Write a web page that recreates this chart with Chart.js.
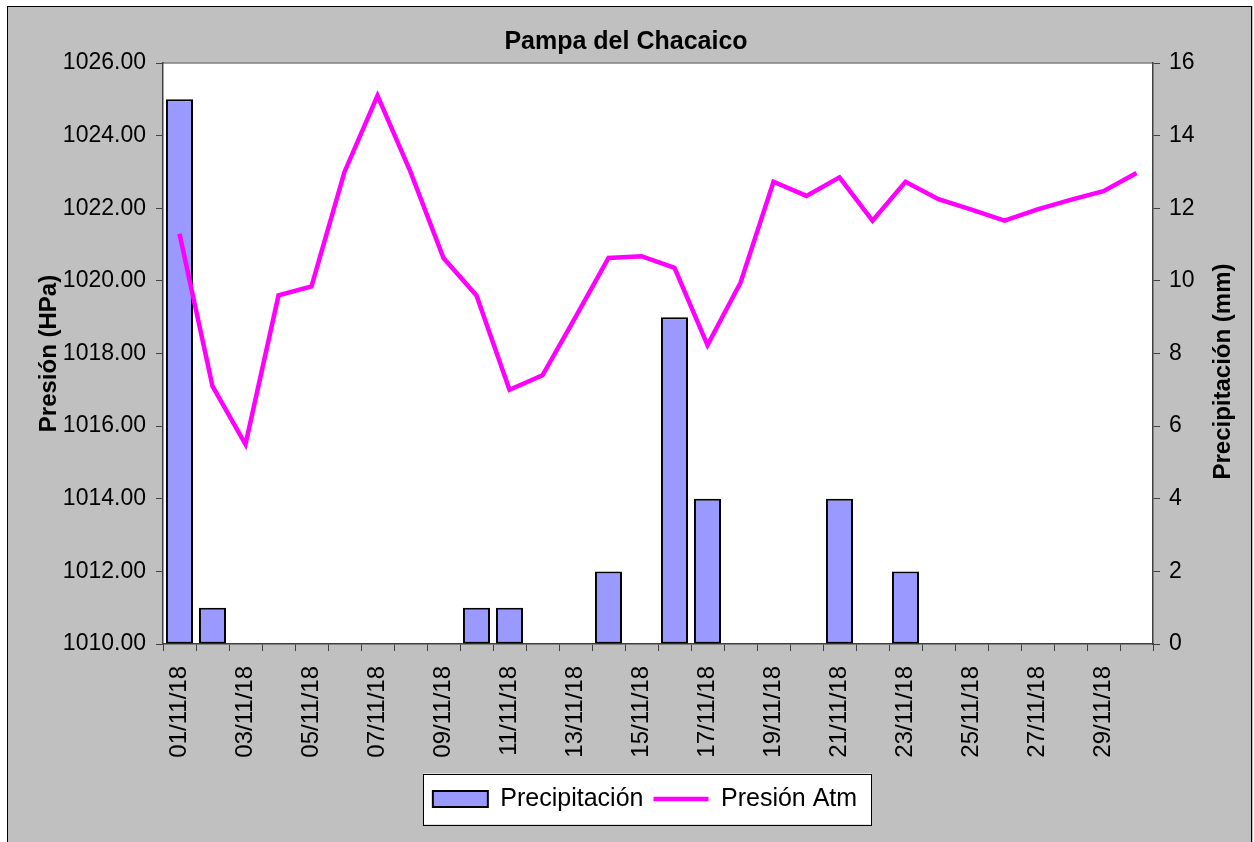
<!DOCTYPE html>
<html>
<head>
<meta charset="utf-8">
<script src="https://cdn.jsdelivr.net/npm/chart.js@4.4.0/dist/chart.umd.min.js"></script>
<style>
  html, body { margin: 0; padding: 0; background: #ffffff; }
  #wrap { width: 1254px; height: 842px; }
</style>
</head>
<body>
<div id="wrap"><canvas id="chart"></canvas></div>
<script>
// Datos del grafico
const fechas = ['01/11/18', '02/11/18', '03/11/18', '04/11/18', '05/11/18', '06/11/18',
  '07/11/18', '08/11/18', '09/11/18', '10/11/18', '11/11/18', '12/11/18', '13/11/18',
  '14/11/18', '15/11/18', '16/11/18', '17/11/18', '18/11/18', '19/11/18', '20/11/18',
  '21/11/18', '22/11/18', '23/11/18', '24/11/18', '25/11/18', '26/11/18', '27/11/18',
  '28/11/18', '29/11/18', '30/11/18'];
const precipitacion = [15, 1, 0, 0, 0, 0, 0, 0, 0, 1, 1, 0, 0, 2, 0, 9, 4, 0, 0, 0,
  4, 0, 2, 0, 0, 0, 0, 0, 0, 0];
const presion = [1021.3, 1017.1, 1015.5, 1019.6, 1019.85, 1023.0, 1025.1, 1023.0, 1020.63, 1019.6,
  1017.0, 1017.4, 1019.0, 1020.63, 1020.68, 1020.36, 1018.23, 1019.95, 1022.73, 1022.34,
  1022.85, 1021.66, 1022.73, 1022.25, 1021.96, 1021.66, 1021.97, 1022.23, 1022.47, 1022.97];
const presionMin = 1010, presionMax = 1026, presionPaso = 2;
const precipMin = 0, precipMax = 16, precipPaso = 2;

const colores = {
  fondo: '#c0c0c0',
  barra: '#9999ff',
  linea: '#ff00ff',
  eje: '#404040',
  texto: '#000000'
};

const fuente = "'Liberation Sans', Arial, sans-serif";
Chart.defaults.font.family = fuente;
Chart.defaults.color = colores.texto;

// Fondo gris, area blanca, recuadro de leyenda y titulo del eje derecho
const fondoPlugin = {
  id: 'fondo',
  afterLayout(chart) {
    const lg = chart.legend;
    lg.left += 19;
    lg.right += 19;
  },
  beforeDraw(chart) {
    const ctx = chart.ctx;
    const a = chart.chartArea;
    ctx.save();
    ctx.fillStyle = colores.fondo;
    ctx.fillRect(7, 6, 1246, 850);
    ctx.strokeStyle = '#000';
    ctx.lineWidth = 1;
    ctx.strokeRect(7.5, 6.5, 1244, 850);

    ctx.fillStyle = '#ffffff';
    ctx.fillRect(a.left, a.top, a.right - a.left, a.bottom - a.top);
    ctx.strokeStyle = '#808080';
    ctx.lineWidth = 1.5;
    ctx.beginPath();
    ctx.moveTo(a.left, a.top);
    ctx.lineTo(a.right, a.top);
    ctx.stroke();

    const lg = chart.legend;
    const pad = lg.options.labels.padding;
    const rowW = lg.lineWidths[0];
    const startX = (lg.left + pad + lg.right - rowW) / 2;
    const cy = lg.top + pad + 12.5;
    const x0 = Math.round(startX - 10) + 0.5;
    const x1 = Math.round(startX + rowW - pad + 14) + 0.5;
    ctx.fillStyle = '#ffffff';
    ctx.fillRect(x0, cy - 25.5, x1 - x0, 51);
    ctx.strokeStyle = '#000';
    ctx.lineWidth = 1;
    ctx.strokeRect(x0, Math.round(cy - 25.5) + 0.5, x1 - x0, 51);
    ctx.restore();
  },
  afterDraw(chart) {
    // el titulo derecho se lee de abajo hacia arriba, como el izquierdo
    const ctx = chart.ctx;
    const a = chart.chartArea;
    ctx.save();
    ctx.translate(1223, (a.top + a.bottom) / 2 + 18);
    ctx.rotate(-Math.PI / 2);
    ctx.font = 'bold 24px ' + fuente;
    ctx.fillStyle = colores.texto;
    ctx.textAlign = 'center';
    ctx.textBaseline = 'middle';
    ctx.fillText('Precipitación (mm)', 0, 0);
    ctx.restore();
  }
};

const ctx = document.getElementById('chart').getContext('2d');

new Chart(ctx, {
  type: 'bar',
  data: {
    labels: fechas,
    datasets: [
      {
        type: 'bar',
        label: 'Precipitación',
        data: precipitacion,
        yAxisID: 'y1',
        backgroundColor: colores.barra,
        borderColor: '#000000',
        borderWidth: c => (c.raw > 0 ? 2 : 0),
        borderSkipped: false,
        categoryPercentage: 1,
        barPercentage: 0.82,
        order: 2
      },
      {
        type: 'line',
        label: 'Presión Atm',
        data: presion,
        yAxisID: 'y',
        borderColor: colores.linea,
        backgroundColor: colores.linea,
        borderWidth: 4.5,
        pointRadius: 0,
        tension: 0,
        fill: false,
        order: 1
      }
    ]
  },
  options: {
    responsive: true,
    maintainAspectRatio: false,
    animation: false,
    layout: { padding: { left: 10, right: 12, top: 0, bottom: 20.5 } },
    plugins: {
      title: {
        display: true,
        text: 'Pampa del Chacaico',
        color: colores.texto,
        font: { size: 25, weight: 'bold' },
        padding: { top: 27, bottom: 6 }
      },
      legend: {
        display: true,
        position: 'bottom',
        labels: {
          color: colores.texto,
          font: { size: 25 },
          usePointStyle: true,
          pointStyleWidth: 55,
          boxHeight: 16,
          padding: 10,
          generateLabels: function(chart) {
            return chart.data.datasets.map((ds, i) => ({
              text: ds.label,
              datasetIndex: i,
              fillStyle: ds.type === 'bar' ? colores.barra : colores.linea,
              strokeStyle: ds.type === 'bar' ? '#000000' : colores.linea,
              lineWidth: ds.type === 'bar' ? 2 : 4.5,
              pointStyle: ds.type === 'bar' ? 'rect' : 'line',
              fontColor: colores.texto,
              hidden: false
            }));
          }
        }
      },
      tooltip: { enabled: false }
    },
    scales: {
      x: {
        offset: true,
        grid: {
          display: true,
          drawOnChartArea: false,
          drawTicks: true,
          tickLength: 7,
          offset: true,
          color: colores.eje
        },
        border: { display: true, color: colores.eje, width: 1.5 },
        ticks: {
          autoSkip: false,
          maxRotation: 90,
          minRotation: 90,
          padding: 15,
          color: colores.texto,
          font: { size: 24 },
          callback: function(value, index) {
            return index % 2 === 0 ? this.getLabelForValue(value) : '';
          }
        },
        afterFit: function(scale) { scale.height = 132.5; }
      },
      y: {
        position: 'left',
        min: presionMin,
        max: presionMax,
        grid: { drawOnChartArea: false, drawTicks: true, tickLength: 7, color: colores.eje },
        border: { display: true, color: colores.eje, width: 1.5 },
        ticks: {
          stepSize: presionPaso,
          padding: 10,
          color: colores.texto,
          font: { size: 23 },
          callback: function(value) { return value.toFixed(2); }
        },
        title: {
          display: true,
          text: 'Presión (HPa)',
          color: colores.texto,
          font: { size: 24, weight: 'bold' },
          padding: { top: 25, bottom: 0 }
        },
        afterFit: function(scale) { scale.width = 153; }
      },
      y1: {
        position: 'right',
        min: precipMin,
        max: precipMax,
        grid: { drawOnChartArea: false, drawTicks: true, tickLength: 7, color: colores.eje },
        border: { display: true, color: colores.eje, width: 1.5 },
        ticks: {
          stepSize: precipPaso,
          padding: 9,
          color: colores.texto,
          font: { size: 23 }
        },
        title: { display: false },
        afterFit: function(scale) { scale.width = 89; }
      }
    }
  },
  plugins: [fondoPlugin]
});
</script>
</body>
</html>
